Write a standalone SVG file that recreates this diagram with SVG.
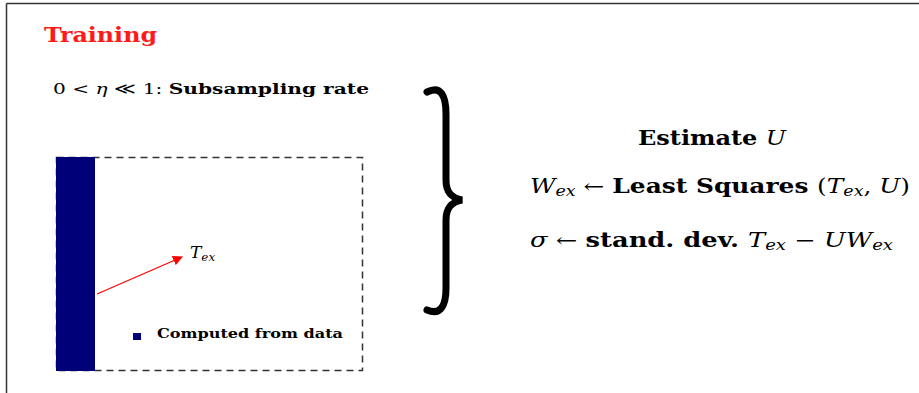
<svg xmlns="http://www.w3.org/2000/svg" width="919" height="393" viewBox="0 0 919 393">
<style>
text{font-family:"DejaVu Serif","Liberation Serif",serif;fill:#000}
.b{font-weight:bold}
.i{font-style:italic}
.sub{font-size:70%}
</style>
<defs>
<marker id="ah" viewBox="0 0 10 10" refX="9" refY="5" markerWidth="10" markerHeight="10" markerUnits="userSpaceOnUse" orient="auto">
<path d="M0,0 L10,5 L0,10 z" fill="#ff0000"/>
</marker>
</defs>
<rect width="919" height="393" fill="#fff"/>
<g id="frame">
<line x1="6.5" y1="3.5" x2="919" y2="3.5" stroke="#333" stroke-width="1.5"/>
<line x1="6.5" y1="3.5" x2="6.5" y2="393" stroke="#333" stroke-width="1.5"/>
</g>
<g id="title"><text x="44" y="42" class="b" font-size="21" textLength="113" lengthAdjust="spacingAndGlyphs" style="fill:#ff1a1a">Training</text></g>
<g id="rate"><text x="53" y="94" font-size="15.5" textLength="316" lengthAdjust="spacingAndGlyphs">0 &lt; <tspan class="i">η</tspan> ≪ 1: <tspan class="b">Subsampling rate</tspan></text></g>
<g id="data-box">
<rect x="56.5" y="157.5" width="306" height="213" fill="none" stroke="#333" stroke-width="1.5" stroke-dasharray="7,5"/>
<rect x="56" y="157" width="39" height="214" fill="#000078"/>
</g>
<g id="connectors">
<line x1="97" y1="294" x2="182" y2="257" stroke="#ff0000" stroke-width="1.2" marker-end="url(#ah)"/>
</g>
<g id="tex-label"><text x="190" y="258" class="i" font-size="17">T<tspan class="sub" dy="3">ex</tspan></text></g>
<g id="legend">
<rect x="133" y="333" width="8" height="7" fill="#000078"/>
<text x="157" y="338" class="b" font-size="12.5" textLength="186" lengthAdjust="spacingAndGlyphs">Computed from data</text>
</g>
<g id="brace">
<path d="M427 92 C441 85 446 96 446 114 L446 180 C446 193 452 198 462 200 C452 202 446 207 446 220 L446 288 C446 305 441 316 427 310" fill="none" stroke="#000" stroke-width="7" stroke-linecap="round"/>
</g>
<g id="estimate">
<text x="638" y="145" font-size="20" textLength="148" lengthAdjust="spacingAndGlyphs"><tspan class="b">Estimate </tspan><tspan class="i">U</tspan></text>
<text x="530" y="193" font-size="20" textLength="380" lengthAdjust="spacingAndGlyphs"><tspan class="i">W</tspan><tspan class="i sub" dy="3">ex</tspan><tspan dy="-3"> ← </tspan><tspan class="b">Least Squares </tspan>(<tspan class="i">T</tspan><tspan class="i sub" dy="3">ex</tspan><tspan dy="-3">, </tspan><tspan class="i">U</tspan>)</text>
<text x="530" y="247" font-size="20" textLength="363" lengthAdjust="spacingAndGlyphs"><tspan class="i">σ</tspan> ← <tspan class="b">stand. dev. </tspan><tspan class="i">T</tspan><tspan class="i sub" dy="3">ex</tspan><tspan dy="-3"> − </tspan><tspan class="i">UW</tspan><tspan class="i sub" dy="3">ex</tspan></text>
</g>
</svg>
